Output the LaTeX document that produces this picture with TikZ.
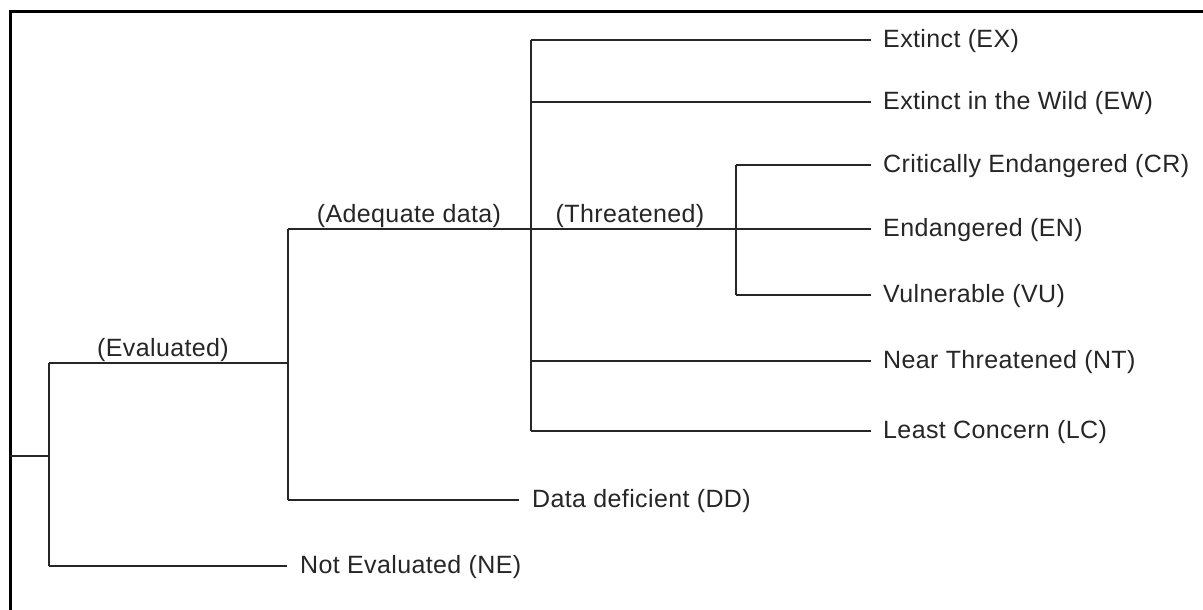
\documentclass[tikz,border=0pt]{standalone}
\usepackage{fontspec}
\setmainfont{Liberation Sans}[LetterSpace=1.5]
\begin{document}
\begin{tikzpicture}[x=1pt,y=-1pt,
  branch/.style={draw=black!85, line width=1.8pt},
  frameline/.style={draw=black, line width=3pt},
  leaf/.style={anchor=west, inner sep=0pt, yshift=-1pt, text=black!85, font=\fontsize{25}{28}\selectfont},
  grp/.style={anchor=south, inner sep=0pt, yshift=1.5pt, text=black!85, font=\fontsize{25}{28}\selectfont}]
\useasboundingbox (0,0) rectangle (1203,610);
\fill[white] (0,0) rectangle (1203,610);
% frame (only top and left visible)
\draw[frameline] (10,610) -- (10,12) -- (1203,12);
% junction coordinates
\coordinate (root) at (10,456);
\coordinate (evtop) at (49,363);
\coordinate (evmid) at (49,456);
\coordinate (evbot) at (49,566);
\coordinate (adtop) at (288,229);
\coordinate (adbot) at (288,500);
\coordinate (thtop) at (531,40);
\coordinate (thbot) at (531,431);
\coordinate (thew) at (531,102);
\coordinate (thmid) at (531,229);
\coordinate (thnt) at (531,361);
\coordinate (crtop) at (736,165);
\coordinate (crmid) at (736,229);
\coordinate (crbot) at (736,295);
% leaf line ends
\coordinate (eEX) at (871,40);
\coordinate (eEW) at (871,102);
\coordinate (eCR) at (871,165);
\coordinate (eEN) at (871,229);
\coordinate (eVU) at (871,295);
\coordinate (eNT) at (871,361);
\coordinate (eLC) at (871,431);
\coordinate (eDD) at (519,500);
\coordinate (eNE) at (287,566);
% leaves
\node[leaf] (EX) at (883,40) {Extinct (EX)};
\node[leaf] (EW) at (883,102) {Extinct in the Wild (EW)};
\node[leaf] (CR) at (883,165) {Critically Endangered (CR)};
\node[leaf] (EN) at (883,229) {Endangered (EN)};
\node[leaf] (VU) at (883,295) {Vulnerable (VU)};
\node[leaf] (NT) at (883,361) {Near Threatened (NT)};
\node[leaf] (LC) at (883,431) {Least Concern (LC)};
\node[leaf] (DD) at (532,500) {Data deficient (DD)};
\node[leaf] (NE) at (300,566) {Not Evaluated (NE)};
% branches
\draw[branch] (root) -- (evmid);
\draw[branch] (evtop) -- (evbot);
\draw[branch] (evtop) -- (adtop |- evtop);
\draw[branch] (evbot) -- (eNE);
\draw[branch] (adtop) -- (adbot);
\draw[branch] (adbot) -- (eDD);
\draw[branch] (adtop) -- (crmid);
\draw[branch] (thtop) -- (thbot);
\draw[branch] (crtop) -- (crbot);
\draw[branch] (thtop) -- (eEX);
\draw[branch] (thew) -- (eEW);
\draw[branch] (crtop) -- (eCR);
\draw[branch] (crmid) -- (eEN);
\draw[branch] (crbot) -- (eVU);
\draw[branch] (thnt) -- (eNT);
\draw[branch] (thbot) -- (eLC);
% group labels
\node[grp] (lev) at (163,363) {(Evaluated)};
\node[grp] (lad) at (409,229) {(Adequate data)};
\node[grp] (lth) at (630,229) {(Threatened)};
\end{tikzpicture}
\end{document}
